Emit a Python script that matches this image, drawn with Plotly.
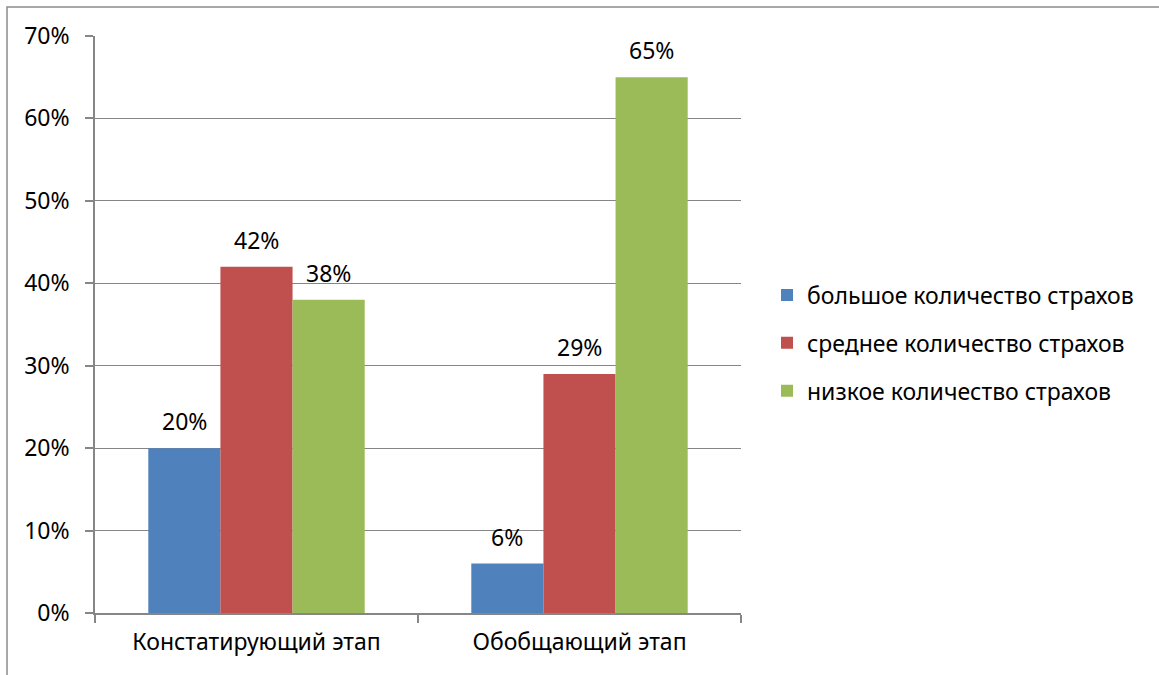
import plotly.graph_objects as go

categories = ["Констатирующий этап", "Обобщающий этап"]
series_names = ["большое количество страхов", "среднее количество страхов", "низкое количество страхов"]
high = [0.20, 0.06]
medium = [0.42, 0.29]
low = [0.38, 0.65]
colors = ["#4F81BD", "#C0504D", "#9BBB59"]
tick_vals = [0, 0.1, 0.2, 0.3, 0.4, 0.5, 0.6, 0.7]
tick_text = ["0%", "10%", "20%", "30%", "40%", "50%", "60%", "70%"]

FONT = "Noto Sans"
FS = 23
BARGAP = 0.33
series = [high, medium, low]

fig = go.Figure()
for name, vals, col in zip(series_names, series, colors):
    fig.add_trace(go.Bar(
        x=categories, y=vals, name=name, marker=dict(color=col, line=dict(width=0)),
        legendgroup=name, hoverinfo="skip",
    ))

# data labels above bars
annotations = []
nser = len(series)
bw = (1 - BARGAP) / nser
for j, vals in enumerate(series):
    for i, v in enumerate(vals):
        annotations.append(dict(
            x=i + (j - (nser - 1) / 2) * bw, y=v, xref="x", yref="y",
            text=f"{round(v * 100)}%", showarrow=False,
            yanchor="middle", yshift=27,
            font=dict(family=FONT, size=FS, color="black"),
        ))

W, H = 1159, 675
ml, mt = 95, 36
pw, ph = 646, 577
mr, mb = W - ml - pw, H - mt - ph

fig.update_layout(
    width=W, height=H,
    margin=dict(l=ml, r=mr, t=mt, b=mb, pad=0),
    paper_bgcolor="white", plot_bgcolor="white",
    barmode="group", bargap=BARGAP, bargroupgap=0,
    font=dict(family=FONT, size=FS, color="black"),
    showlegend=True,
    legend=dict(x=(767 - ml) / pw, y=(613 - 343) / ph, xanchor="left", yanchor="middle",
                font=dict(family=FONT, size=FS, color="black"),
                traceorder="grouped", tracegroupgap=15, itemwidth=30,
                bgcolor="rgba(0,0,0,0)"),
    xaxis=dict(showline=True, linecolor="#868686", linewidth=1.5, ticks="outside",
               tickson="boundaries", ticklen=8, tickcolor="#868686", tickwidth=1.5,
               showgrid=False, ticklabelstandoff=8,
               tickfont=dict(family=FONT, size=FS, color="black")),
    yaxis=dict(range=[0, 0.7], tickvals=tick_vals, ticktext=tick_text,
               showline=True, linecolor="#868686", linewidth=1.5, ticks="outside",
               ticklen=8, tickcolor="#868686", tickwidth=1.5,
               showgrid=True, gridcolor="#868686", gridwidth=1, zeroline=False,
               ticklabelstandoff=11,
               tickfont=dict(family=FONT, size=FS, color="black")),
    annotations=annotations,
    shapes=[dict(type="rect", xref="paper", yref="paper",
                 x0=(7 - ml) / pw, x1=(W + 20 - ml) / pw,
                 y0=-(H + 20 - mt - ph) / ph, y1=1 + (mt - 7) / ph,
                 line=dict(color="#8c8c8c", width=1.5), layer="below")],
)

fig.write_html("out.html", config={"displayModeBar": False},
               post_script="document.body.style.margin='0';document.body.style.overflow='hidden';")
